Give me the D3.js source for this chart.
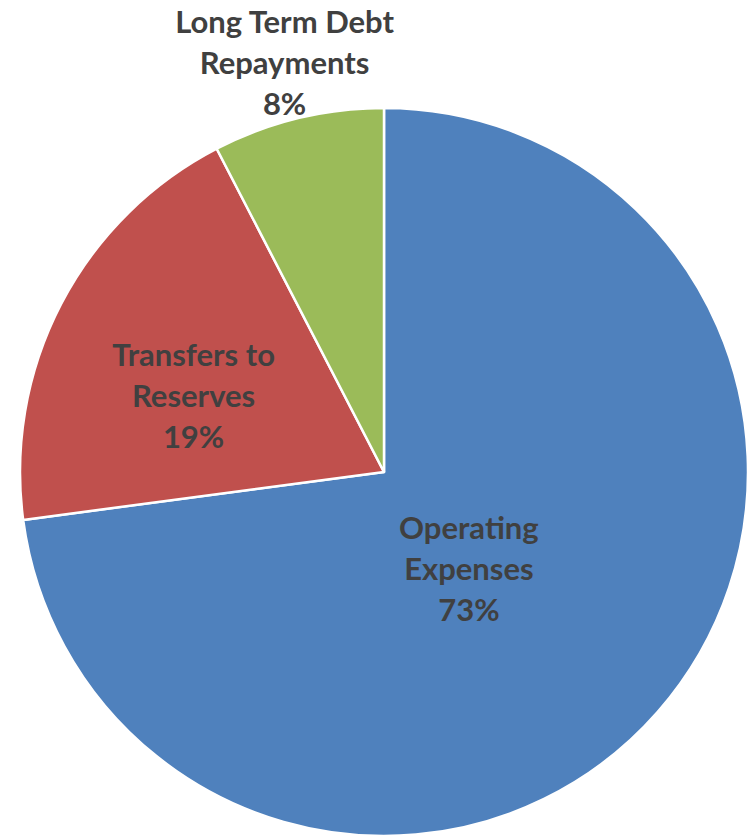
<!DOCTYPE html>
<html>
<head>
<meta charset="utf-8">
<script src="https://cdn.jsdelivr.net/npm/d3@7"></script>
<style>
  html, body { margin: 0; padding: 0; background: #fff; }
  .slice-label { font-family: Lato, "Open Sans", sans-serif; font-weight: 700; fill: #404040; }
</style>
</head>
<body>
<svg id="chart" width="750" height="837"></svg>
<script>
// ========= data =========
const categories = ["Operating Expenses", "Transfers to Reserves", "Long Term Debt Repayments"];
const shares = [72.9, 19.5, 7.6];
const labelLines = [
    ["Operating", "Expenses", "73%"],
    ["Transfers to", "Reserves", "19%"],
    ["Long Term Debt", "Repayments", "8%"]
];
const sliceColors = ["#4f81bd", "#c0504d", "#9bbb59"];

// ========= svg =========
const svg = d3.select("#chart");

const cx = 384;
const cy = 472;
const radius = 364;

const g = svg.append("g")
    .attr("transform", `translate(${cx},${cy})`);

const rows = categories.map((c, i) => ({
    name: c,
    value: shares[i],
    color: sliceColors[i],
    lines: labelLines[i]
}));

const pie = d3.pie()
    .value(d => d.value)
    .sort(null);

const arc = d3.arc()
    .innerRadius(0)
    .outerRadius(radius);

const arcs = pie(rows);

g.selectAll(".slice")
    .data(arcs)
    .join("path")
    .attr("class", "slice")
    .attr("d", arc)
    .attr("fill", d => d.data.color)
    .attr("stroke", "#fff")
    .attr("stroke-width", 2.5)
    .attr("stroke-linejoin", "round");

// ========= labels =========
// inside for big slices, outside for the small one
const labelRadius = [0.31, 0.59, 1.155];
const lineGap = 41;

const labels = g.selectAll(".slice-label")
    .data(arcs)
    .join("text")
    .attr("class", "slice-label")
    .attr("text-anchor", "middle")
    .attr("font-size", 31)
    .attr("transform", (d, i) => {
        const r = radius * labelRadius[i];
        const [x, y] = d3.arc().innerRadius(r).outerRadius(r).centroid(d);
        const shift = labelRadius[i] < 1 ? 24 : 0;
        return `translate(${x},${y + shift})`;
    });

labels.selectAll("tspan")
    .data(d => d.data.lines)
    .join("tspan")
    .attr("x", 0)
    .attr("y", (t, j, nodes) => (j - (nodes.length - 1) / 2) * lineGap + 10)
    .text(t => t);
</script>
</body>
</html>
